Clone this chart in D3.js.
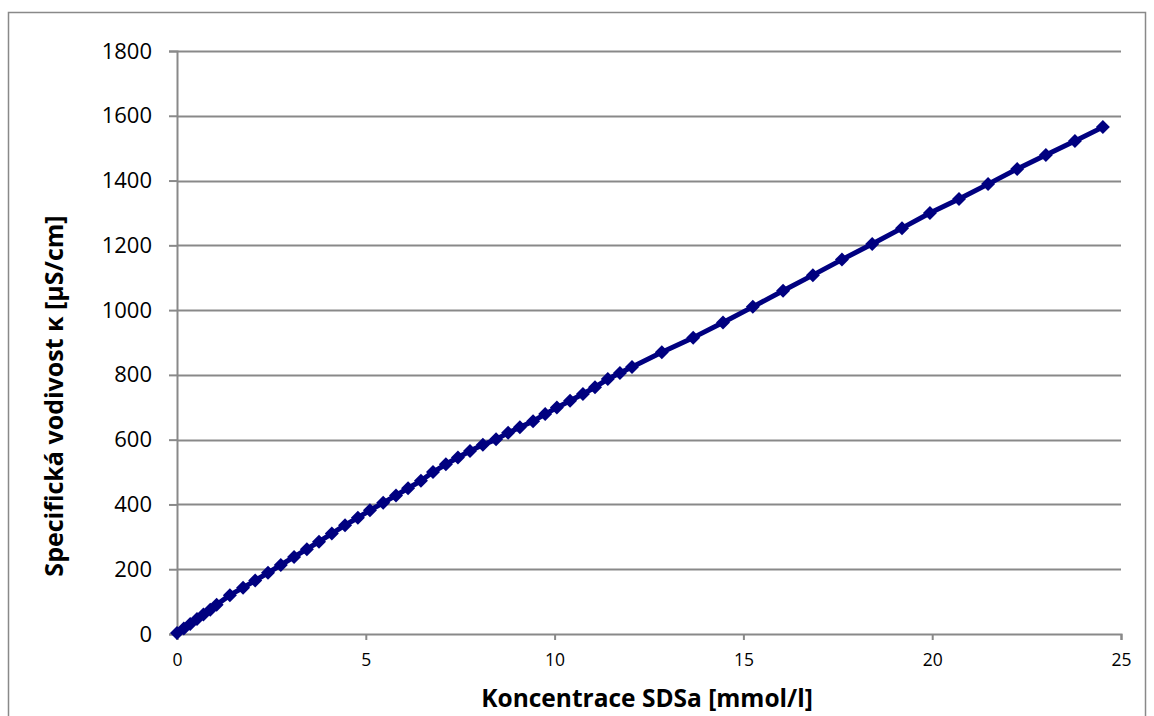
<!DOCTYPE html>
<html>
<head>
<meta charset="utf-8">
<script src="https://cdn.jsdelivr.net/npm/d3@7"></script>
<style>
	body { margin: 0; background: #fff; }
	text { font-family: "Open Sans", sans-serif; fill: #000; }
</style>
</head>
<body>
<div id="chart"></div>
<script>
// Data
const concentration = [0, 0.18, 0.35, 0.53, 0.70, 0.88, 1.05, 1.40, 1.75, 2.07, 2.41, 2.75,
	3.10, 3.44, 3.76, 4.10, 4.45, 4.79, 5.11, 5.46, 5.80, 6.12, 6.46, 6.78, 7.12, 7.44,
	7.76, 8.10, 8.45, 8.77, 9.08, 9.43, 9.75, 10.06, 10.41, 10.75, 11.07, 11.41, 11.73,
	12.05, 12.84, 13.67, 14.46, 15.25, 16.05, 16.84, 17.61, 18.41, 19.20, 19.94, 20.71,
	21.48, 22.25, 23.01, 23.78, 24.52];
const conductivity = [3, 17, 31, 46, 60, 75, 90, 120, 143, 165, 189, 213,
	238, 262, 285, 310, 336, 359, 382, 405, 428, 450, 473, 500, 524, 545,
	565, 584, 601, 621, 638, 657, 679, 699, 720, 741, 762, 787, 806,
	824, 870, 915, 962, 1010, 1060, 1108, 1156, 1204, 1253, 1300, 1343,
	1389, 1436, 1479, 1522, 1565];
const xTicks = [0, 5, 10, 15, 20, 25];
const yTicks = [0, 200, 400, 600, 800, 1000, 1200, 1400, 1600, 1800];
const xTitle = "Koncentrace SDSa [mmol/l]";
const yTitle = "Specifická vodivost κ [µS/cm]";

const svgWidth = 1154;
const svgHeight = 716;

const margin = {
	top: 51,
	right: 33,
	bottom: 82,
	left: 177
};

const width = svgWidth - margin.left - margin.right;
const height = svgHeight - margin.top - margin.bottom;

const gridColor = "#898989";
const seriesColor = "#000080";

const svg = d3.select("#chart")
	.append("svg")
	.attr("width", svgWidth)
	.attr("height", svgHeight);

// outer chart border
svg.append("rect")
	.attr("x", 8.5)
	.attr("y", 12.5)
	.attr("width", 1137)
	.attr("height", 720)
	.attr("fill", "none")
	.attr("stroke", gridColor)
	.attr("stroke-width", 1.5);

const chartGroup = svg.append("g")
	.attr("transform", `translate(${margin.left}, ${margin.top})`);

const data = concentration.map((c, i) => ({x: c, y: conductivity[i]}));

// Scales
const xScale = d3.scaleLinear()
	.domain([0, 25])
	.range([0, width]);

const yScale = d3.scaleLinear()
	.domain([0, 1800])
	.range([height, 0]);

// Horizontal gridlines
chartGroup.append("g")
	.selectAll("line")
	.data(yTicks.filter(d => d > 0))
	.enter()
	.append("line")
	.attr("x1", 0)
	.attr("x2", width)
	.attr("y1", d => Math.round(yScale(d)) + 0.5)
	.attr("y2", d => Math.round(yScale(d)) + 0.5)
	.attr("stroke", gridColor)
	.attr("stroke-width", 2);

// Axes
const leftAxis = d3.axisLeft(yScale)
	.tickValues(yTicks)
	.tickFormat(d3.format("d"))
	.tickSize(8)
	.tickPadding(17);

const bottomAxis = d3.axisBottom(xScale)
	.tickValues(xTicks)
	.tickFormat(d3.format("d"))
	.tickSize(6)
	.tickPadding(14);

const yAxis = chartGroup.append("g")
	.call(leftAxis);

const xAxis = chartGroup.append("g")
	.attr("transform", `translate(0, ${height})`)
	.call(bottomAxis);

[xAxis, yAxis].forEach(ax => {
	ax.select(".domain").attr("stroke", gridColor).attr("stroke-width", 2);
	ax.selectAll(".tick line").attr("stroke", gridColor).attr("stroke-width", 2);
	ax.selectAll(".tick text").attr("fill", "#000").style("font-family", "'Open Sans', sans-serif");
});
yAxis.selectAll(".tick text").style("font-size", "22px");
xAxis.selectAll(".tick text").style("font-size", "17.5px");

// Series line
const line = d3.line()
	.x(d => xScale(d.x))
	.y(d => yScale(d.y));

chartGroup.append("path")
	.datum(data)
	.attr("d", line)
	.attr("fill", "none")
	.attr("stroke", seriesColor)
	.attr("stroke-width", 5)
	.attr("stroke-linejoin", "round");

// Diamond markers
const s = 7;
chartGroup.selectAll("path.marker")
	.data(data)
	.enter()
	.append("path")
	.classed("marker", true)
	.attr("d", `M0,${-s}L${s},0L0,${s}L${-s},0Z`)
	.attr("transform", d => `translate(${xScale(d.x)}, ${yScale(d.y)})`)
	.attr("fill", seriesColor);

// Axis titles
svg.append("text")
	.attr("x", 647)
	.attr("y", 707)
	.attr("text-anchor", "middle")
	.style("font-size", "24.5px")
	.style("font-weight", "bold")
	.text(xTitle);

svg.append("text")
	.attr("transform", "translate(63, 396) rotate(-90)")
	.attr("text-anchor", "middle")
	.style("font-size", "25px")
	.style("font-weight", "bold")
	.text(yTitle);
</script>
</body>
</html>
